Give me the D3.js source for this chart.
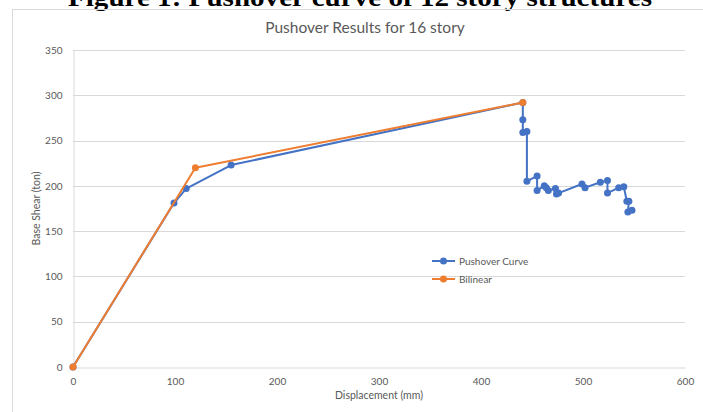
<!DOCTYPE html>
<html>
<head>
<meta charset="utf-8">
<script src="https://cdn.jsdelivr.net/npm/d3@7/dist/d3.min.js"></script>
<style>
  html, body { margin: 0; padding: 0; background: #fff; }
  svg { display: block; }
</style>
</head>
<body>
<svg id="chart" width="703" height="412"></svg>
<script>
// Pushover analysis results (displacement in mm, base shear in ton)
const pushoverDisp  = [0, 99, 111, 155, 441, 441, 441, 445, 445, 455, 455, 462, 464, 466, 473, 474, 476, 499, 502, 517, 524, 524, 535, 540, 543, 545, 544, 548];
const pushoverShear = [0, 181, 197, 223, 292, 273, 259, 260, 205, 211, 195, 200, 198, 195, 197, 191, 192, 202, 198, 204, 206, 192, 198, 199, 183, 183, 171, 173];

// Idealised bilinear curve
const bilinearDisp  = [0, 120, 441];
const bilinearShear = [0, 220, 292];

const xTicks = [0, 100, 200, 300, 400, 500, 600];
const yTicks = [0, 50, 100, 150, 200, 250, 300, 350];

const seriesNames = ["Pushover Curve", "Bilinear"];
const seriesColors = ["#4472C4", "#ED7D31"];

const svg = d3.select("#chart");
const font = "Lato, 'Noto Sans', sans-serif";
const grey = "#595959";

// Figure caption above the chart frame
svg.append("text")
  .attr("x", 360).attr("y", 6)
  .attr("text-anchor", "middle")
  .attr("font-family", "'Liberation Serif', 'Times New Roman', serif")
  .attr("font-weight", "bold")
  .attr("font-size", 25)
  .attr("textLength", 584)
  .attr("lengthAdjust", "spacingAndGlyphs")
  .attr("fill", "#000")
  .text("Figure 1: Pushover curve of 12 story structures");

// Chart frame
svg.append("rect")
  .attr("x", 12.5).attr("y", 9.5)
  .attr("width", 800).attr("height", 500)
  .attr("fill", "none")
  .attr("stroke", "#d9d9d9");

const x = d3.scaleLinear().domain([0, 600]).range([73, 685]);
const y = d3.scaleLinear().domain([0, 350]).range([367, 50]);

// Horizontal gridlines
svg.append("g")
  .selectAll("line")
  .data(yTicks.filter(d => d > 0))
  .join("line")
  .attr("x1", x(0)).attr("x2", x(600))
  .attr("y1", d => Math.round(y(d)) + 0.5)
  .attr("y2", d => Math.round(y(d)) + 0.5)
  .attr("stroke", "#d9d9d9")
  .attr("stroke-width", 1);

// X axis
const xAxis = svg.append("g")
  .attr("transform", `translate(0,${Math.round(y(0)) + 0.5})`)
  .call(d3.axisBottom(x).tickValues(xTicks).tickSize(0).tickPadding(10));
xAxis.select(".domain").attr("stroke", "#d9d9d9");
xAxis.selectAll("text")
  .attr("font-family", font).attr("font-size", 10).attr("fill", grey);

// Y axis
const yAxis = svg.append("g")
  .attr("transform", `translate(${Math.round(x(0)) + 0.5},0)`)
  .call(d3.axisLeft(y).tickValues(yTicks).tickSize(0).tickPadding(11));
yAxis.select(".domain").attr("stroke", "#d9d9d9");
yAxis.selectAll("text")
  .attr("font-family", font).attr("font-size", 10).attr("fill", grey);

// Axis titles
svg.append("text")
  .attr("x", x(300)).attr("y", 399)
  .attr("text-anchor", "middle")
  .attr("font-family", font).attr("font-size", 10.5).attr("fill", grey)
  .text("Displacement (mm)");

svg.append("text")
  .attr("transform", `translate(40,${y(175)}) rotate(-90)`)
  .attr("text-anchor", "middle")
  .attr("font-family", font).attr("font-size", 10.5).attr("fill", grey)
  .text("Base Shear (ton)");

// Chart title
svg.append("text")
  .attr("x", 365).attr("y", 33)
  .attr("text-anchor", "middle")
  .attr("font-family", font).attr("font-size", 15.5).attr("fill", grey)
  .text("Pushover Results for 16 story");

// Series
const series = [
  { disp: pushoverDisp, shear: pushoverShear },
  { disp: bilinearDisp, shear: bilinearShear }
];
const line = d3.line().x(d => x(d[0])).y(d => y(d[1]));

series.forEach((s, i) => {
  const pts = s.disp.map((d, j) => [d, s.shear[j]]);
  const g = svg.append("g");
  g.append("path")
    .attr("d", line(pts))
    .attr("fill", "none")
    .attr("stroke", seriesColors[i])
    .attr("stroke-width", 2)
    .attr("stroke-linejoin", "round");
  g.selectAll("circle")
    .data(pts)
    .join("circle")
    .attr("cx", d => x(d[0]))
    .attr("cy", d => y(d[1]))
    .attr("r", 3.5)
    .attr("fill", seriesColors[i]);
});

// Legend
const legend = svg.append("g");
seriesNames.forEach((name, i) => {
  const ly = 261 + i * 18;
  legend.append("line")
    .attr("x1", 432).attr("x2", 455)
    .attr("y1", ly).attr("y2", ly)
    .attr("stroke", seriesColors[i]).attr("stroke-width", 2);
  legend.append("circle")
    .attr("cx", 443.5).attr("cy", ly).attr("r", 3.5)
    .attr("fill", seriesColors[i]);
  legend.append("text")
    .attr("x", 459).attr("y", ly)
    .attr("dy", "0.35em")
    .attr("font-family", font).attr("font-size", 10).attr("fill", grey)
    .text(name);
});
</script>
</body>
</html>
